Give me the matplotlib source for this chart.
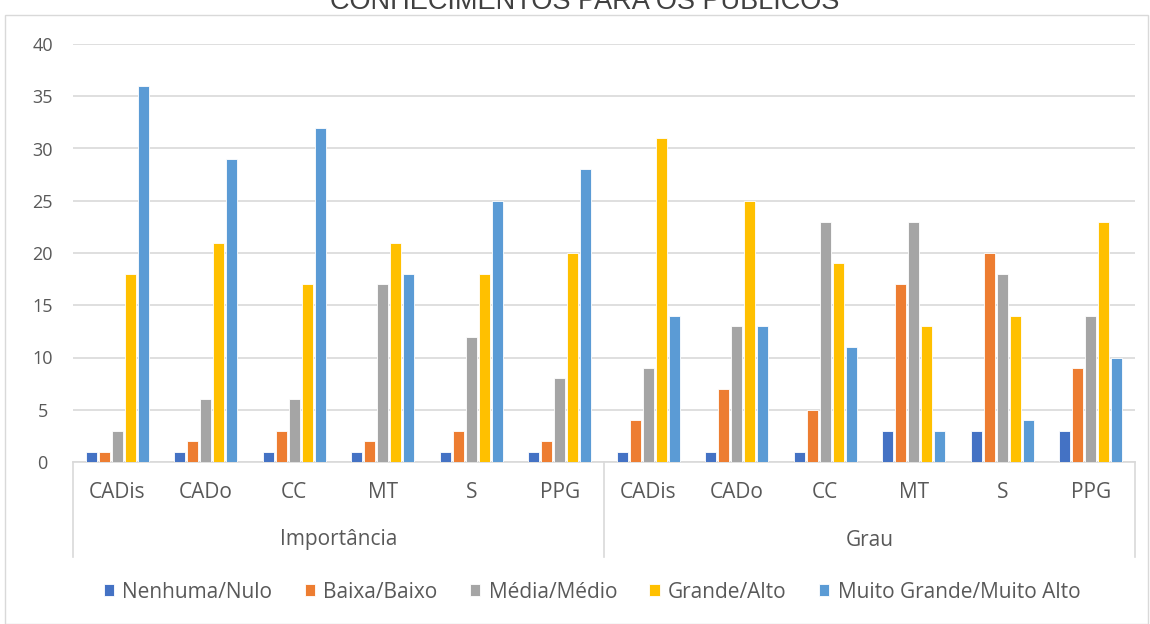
import matplotlib
matplotlib.use("Agg")
import matplotlib.pyplot as plt
import numpy as np
from matplotlib.patches import Rectangle
from matplotlib.lines import Line2D

plt.rcParams['font.family'] = ['Open Sans', 'DejaVu Sans']

title = "CONHECIMENTOS PARA OS PÚBLICOS"
groups = ["Importância", "Grau"]
categories = ["CADis", "CADo", "CC", "MT", "S", "PPG"]
series = ["Nenhuma/Nulo", "Baixa/Baixo", "Média/Médio", "Grande/Alto", "Muito Grande/Muito Alto"]
colors = ["#4472C4", "#ED7D31", "#A5A5A5", "#FFC000", "#5B9BD5"]

nenhuma = [1, 1, 1, 1, 1, 1, 1, 1, 1, 3, 3, 3]
baixa = [1, 2, 3, 2, 3, 2, 4, 7, 5, 17, 20, 9]
media = [3, 6, 6, 17, 12, 8, 9, 13, 23, 23, 18, 14]
grande = [18, 21, 17, 21, 18, 20, 31, 25, 19, 13, 14, 23]
muito = [36, 29, 32, 18, 25, 28, 14, 13, 11, 3, 4, 10]
values = [nenhuma, baixa, media, grande, muito]

W, H = 1150, 624
fig = plt.figure(figsize=(W / 100, H / 100), dpi=100)
fig.patch.set_facecolor("white")

# chart border
fig.add_artist(Rectangle((5 / W, 0), (W - 7) / W, 1 - 15 / H, transform=fig.transFigure,
                         fill=False, edgecolor="#D9D9D9", linewidth=1))

x0, x1 = 73, 1135
y40, y0 = 44, 462
ax = fig.add_axes([x0 / W, 1 - y0 / H, (x1 - x0) / W, (y0 - y40) / H])

ncat = len(groups) * len(categories)
x = np.arange(ncat)
bw = 0.147
for i, (name, vals, c) in enumerate(zip(series, values, colors)):
    ax.bar(x + (i - 2) * bw, vals, width=bw * 0.84, color=c, label=name,
           edgecolor="white", linewidth=0.6, zorder=3)

ax.set_xlim(-0.5, ncat - 0.5)
ax.set_ylim(0, 40)
ax.set_yticks(range(0, 41, 5))
ax.yaxis.grid(True, color="#D9D9D9", linewidth=1.2, zorder=0)
for s in ["top", "right", "left"]:
    ax.spines[s].set_visible(False)
ax.spines["bottom"].set_color("#D9D9D9")
ax.spines["bottom"].set_linewidth(1.2)
ax.tick_params(axis="y", length=0, labelsize=13, labelcolor="#595959", pad=22)
for lbl in ax.get_yticklabels():
    lbl.set_horizontalalignment("center")
ax.tick_params(axis="x", length=0, labelbottom=False)

trans = ax.get_xaxis_transform()
ybot = (y0 - 557) / (y0 - y40)
for xv in [-0.5, 5.5, 11.5]:
    ax.add_line(Line2D([xv, xv], [0, ybot], transform=trans, color="#D9D9D9",
                       linewidth=1.2, clip_on=False))

ycat = (y0 - 493) / (y0 - y40)
ygrp = (y0 - 540) / (y0 - y40)
for gi, g in enumerate(groups):
    for ci, c in enumerate(categories):
        ax.text(gi * len(categories) + ci, ycat, c, transform=trans, ha="center", va="center",
                fontsize=15, color="#595959")
    ax.text(gi * len(categories) + (len(categories) - 1) / 2, ygrp, g, transform=trans,
            ha="center", va="center", fontsize=15, color="#595959")

fig.text(585 / W, 1 - 9 / H, title, ha="center", va="baseline", fontsize=19.5,
         color="#404040", family=["Liberation Sans", "DejaVu Sans"])

handles, labels = ax.get_legend_handles_labels()
fig.legend(handles, labels, loc="center", bbox_to_anchor=(592 / W, 1 - 592 / H), ncol=5,
           frameon=False, fontsize=15, labelcolor="#595959", handlelength=0.5,
           handleheight=0.5, handletextpad=0.4, columnspacing=1.55)

fig.savefig("out.png", dpi=100)
